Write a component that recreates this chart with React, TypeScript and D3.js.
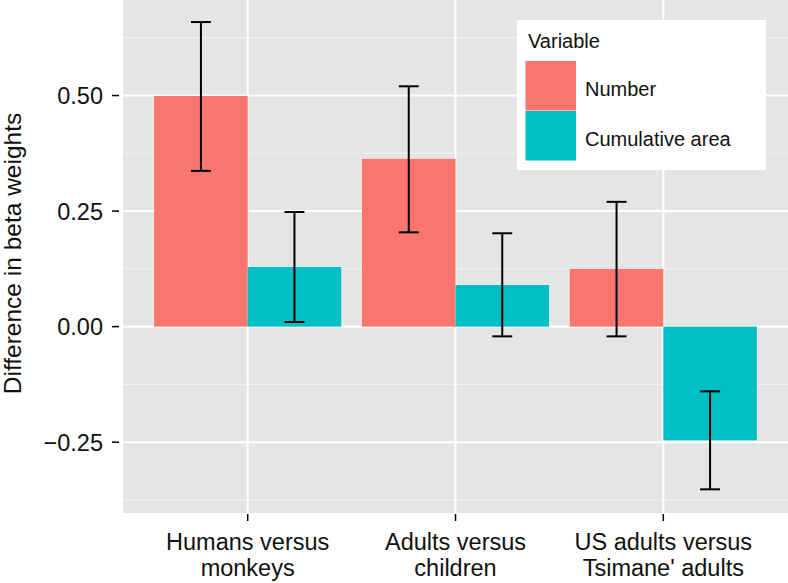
import React from "react";
import * as d3 from "d3";

const categories = ["Humans versus\nmonkeys", "Adults versus\nchildren", "US adults versus\nTsimane' adults"];
const variables = ["Number", "Cumulative area"];
const numberValues = [0.499, 0.363, 0.125];
const numberLower = [0.337, 0.204, -0.021];
const numberUpper = [0.659, 0.520, 0.270];
const areaValues = [0.129, 0.090, -0.246];
const areaLower = [0.010, -0.021, -0.352];
const areaUpper = [0.248, 0.202, -0.140];
const majorTicks = [-0.25, 0, 0.25, 0.5];
const minorTicks = [-0.375, -0.125, 0.125, 0.375, 0.625];
const colors = ["#F8766D", "#00BFC4"];

const W = 788, H = 583;
const panel = { left: 123, right: 788, top: 0, bottom: 513 };
const font = "'Liberation Sans', Arial, Helvetica, sans-serif";

export default function App() {
  const y = d3.scaleLinear().domain([-0.4032, 0.7067]).range([panel.bottom, panel.top]);
  const x = d3.scaleLinear().domain([0.4, 3.6]).range([panel.left, panel.right]);
  const series = [
    { vals: numberValues, lo: numberLower, hi: numberUpper },
    { vals: areaValues, lo: areaLower, hi: areaUpper },
  ];
  const barW = 0.45;
  const capW = 0.048;
  return (
    <svg width={W} height={H} style={{ position: "absolute", left: 0, top: 0 }} fontFamily={font}>
      <rect x={panel.left} y={panel.top} width={panel.right - panel.left} height={panel.bottom - panel.top} fill="#E5E5E5" />
      {minorTicks.map((t) => (
        <line key={"mi" + t} x1={panel.left} x2={panel.right} y1={y(t)} y2={y(t)} stroke="#F2F2F2" strokeWidth={1} />
      ))}
      {majorTicks.map((t) => (
        <line key={"ma" + t} x1={panel.left} x2={panel.right} y1={y(t)} y2={y(t)} stroke="#FFFFFF" strokeWidth={2} />
      ))}
      {categories.map((c, i) => (
        <line key={"vx" + i} x1={x(i + 1)} x2={x(i + 1)} y1={panel.top} y2={panel.bottom} stroke="#FFFFFF" strokeWidth={2} />
      ))}
      {series.map((s, si) =>
        s.vals.map((v, i) => {
          const x0 = x(i + 1 - barW + si * barW);
          const x1 = x(i + 1 + si * barW);
          return (
            <rect key={"b" + si + i} x={x0} width={x1 - x0} y={Math.min(y(v), y(0))} height={Math.abs(y(v) - y(0))} fill={colors[si]} />
          );
        })
      )}
      {series.map((s, si) =>
        s.vals.map((v, i) => {
          const cx = x(i + 1 - barW / 2 + si * barW);
          const hw = (x(capW) - x(0)) ;
          return (
            <g key={"e" + si + i} stroke="#000" strokeWidth={2}>
              <line x1={cx} x2={cx} y1={y(s.lo[i])} y2={y(s.hi[i])} />
              <line x1={cx - hw} x2={cx + hw} y1={y(s.lo[i])} y2={y(s.lo[i])} />
              <line x1={cx - hw} x2={cx + hw} y1={y(s.hi[i])} y2={y(s.hi[i])} />
            </g>
          );
        })
      )}
      {majorTicks.map((t) => (
        <g key={"yt" + t}>
          <line x1={112} x2={119} y1={y(t)} y2={y(t)} stroke="#000" strokeWidth={1.5} />
          <text x={103} y={y(t)} dy="0.36em" textAnchor="end" fontSize={23.5} fill="#111">
            {(t < 0 ? "\u2212" : "") + d3.format(".2f")(Math.abs(t))}
          </text>
        </g>
      ))}
      {categories.map((c, i) => (
        <g key={"xt" + i}>
          <line x1={x(i + 1)} x2={x(i + 1)} y1={514} y2={521} stroke="#000" strokeWidth={1.5} />
          {c.split("\n").map((ln, li) => (
            <text key={li} x={x(i + 1)} y={550 + li * 25.5} textAnchor="middle" fontSize={23.5} fill="#111">
              {ln}
            </text>
          ))}
        </g>
      ))}
      <text transform={`translate(21, ${(panel.top + panel.bottom) / 2 - 3}) rotate(-90)`} textAnchor="middle" fontSize={24.5} fill="#111">
        Difference in beta weights
      </text>
      <g>
        <rect x={517} y={20} width={249} height={150} fill="#FFFFFF" />
        <text x={528} y={48} fontSize={20} fill="#111">Variable</text>
        {variables.map((v, i) => (
          <g key={"lg" + i}>
            <rect x={525.5} y={61 + i * 50} width={50.5} height={49.5} fill={colors[i]} />
            <text x={585} y={96 + i * 49.5} fontSize={20} fill="#111">{v}</text>
          </g>
        ))}
      </g>
    </svg>
  );
}
